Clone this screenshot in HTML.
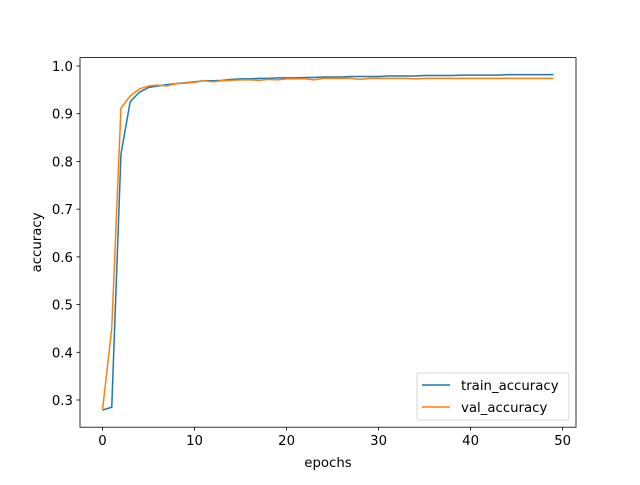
<!DOCTYPE html>
<html><head><meta charset="utf-8"><style>
body{margin:0;background:#fff}
svg text{font-family:"DejaVu Sans","Liberation Sans",sans-serif;font-size:13.3px;fill:#000}
</style></head><body>
<svg id="chart" width="640" height="480" xmlns="http://www.w3.org/2000/svg">
<rect width="640" height="480" fill="#fff"/>
<g id="plot"></g>
</svg>
<script>
const epochs = Array.from({length:50},(_,i)=>i);
const trainAccuracy = [0.279,0.285,0.815,0.925,0.945,0.955,0.958,0.961,0.963,0.965,0.967,0.969,0.969,0.970,0.972,0.973,0.973,0.974,0.974,0.975,0.975,0.975,0.976,0.976,0.977,0.977,0.977,0.978,0.978,0.978,0.978,0.979,0.979,0.979,0.979,0.980,0.980,0.980,0.980,0.981,0.981,0.981,0.981,0.981,0.982,0.982,0.982,0.982,0.982,0.982];
const valAccuracy = [0.280,0.450,0.912,0.937,0.952,0.958,0.960,0.958,0.963,0.964,0.966,0.969,0.967,0.969,0.970,0.971,0.971,0.970,0.972,0.971,0.973,0.973,0.973,0.971,0.974,0.974,0.974,0.974,0.972,0.974,0.974,0.974,0.974,0.974,0.973,0.974,0.974,0.974,0.974,0.974,0.974,0.974,0.974,0.974,0.974,0.974,0.974,0.974,0.974,0.974];
const xTicks = [0,10,20,30,40,50];
const yTicks = [0.3,0.4,0.5,0.6,0.7,0.8,0.9,1.0];
const L=80,R=576,T=57.6,B=427.2;
const xmin=-2.45,xmax=51.45,ymin=0.2430,ymax=1.0176;
const X=v=>L+(v-xmin)/(xmax-xmin)*(R-L);
const Y=v=>B-(v-ymin)/(ymax-ymin)*(B-T);
const NS="http://www.w3.org/2000/svg";
const g=document.getElementById('plot');
function mk(tag,attrs,parent){const e=document.createElementNS(NS,tag);for(const k in attrs)e.setAttribute(k,attrs[k]);(parent||g).appendChild(e);return e;}
function line(data,color,name){
  const p=mk('polyline',{points:data.map((v,i)=>X(epochs[i])+','+Y(v)).join(' '),fill:'none',stroke:color,'stroke-width':1.5});
  
  
}
line(trainAccuracy,'#1f77b4','train-accuracy-line');
line(valAccuracy,'#ff7f0e','val-accuracy-line');
const frame=mk('rect',{x:L,y:T,width:R-L,height:B-T,fill:'none',stroke:'#000','stroke-width':0.8});


xTicks.forEach(t=>{
  mk('line',{x1:X(t),x2:X(t),y1:B,y2:B+3.5,stroke:'#000','stroke-width':0.8});
  const tx=mk('text',{x:X(t),y:B+18,'text-anchor':'middle'});tx.textContent=t;
  
  
});
yTicks.forEach(t=>{
  mk('line',{x1:L-3.5,x2:L,y1:Y(t),y2:Y(t),stroke:'#000','stroke-width':0.8});
  const tx=mk('text',{x:L-7,y:Y(t)+5,'text-anchor':'end'});tx.textContent=t.toFixed(1);
  
  
});
const xl=mk('text',{x:(L+R)/2,y:467,'text-anchor':'middle'});xl.textContent='epochs';


const yl=mk('text',{x:0,y:0,'text-anchor':'middle',transform:'translate(41,'+((T+B)/2)+') rotate(-90)'});yl.textContent='accuracy';


const lg=mk('g',{});


mk('rect',{x:417,y:373,width:152,height:47,rx:2,fill:'#fff','fill-opacity':0.8,stroke:'#ccc','stroke-width':0.8},lg);
[['train_accuracy','#1f77b4',385],['val_accuracy','#ff7f0e',407]].forEach(([n,c,y])=>{
  mk('line',{x1:422,x2:450,y1:y,y2:y,stroke:c,'stroke-width':1.5},lg);
  const t=mk('text',{x:461,y:y+5},lg);t.textContent=n;
  
  
});
</script>
</body></html>
